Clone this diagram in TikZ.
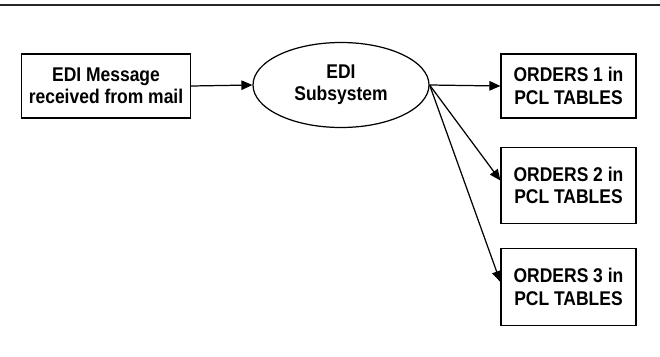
\documentclass[tikz,border=0pt]{standalone}
\usepackage{fontspec}
\setmainfont{Liberation Sans}[FakeStretch=0.88]
\usetikzlibrary{positioning, arrows.meta, shapes.geometric}

\begin{document}
\begin{tikzpicture}[
    msgbox/.style={font=\fontsize{11.3}{12.7}\selectfont\bfseries, align=center,
                   draw=black, line width=0.7pt, rectangle,
                   minimum width=3.38cm, minimum height=1.28cm, inner sep=0pt},
    orderbox/.style={msgbox, minimum width=2.7cm, minimum height=1.53cm},
    subsys/.style={msgbox, ellipse, minimum width=3.52cm, minimum height=1.7cm},
    flow/.style={-{Triangle[length=2.2mm, width=1.9mm]}, line width=0.7pt},
    rule/.style={line width=0.8pt, black!85},
]
\useasboundingbox (0,0) rectangle (13.2,7.12);

\draw[rule] (0,7.02) -- (13.2,7.02);

\node[msgbox] (mail) at (2.12, 5.40) {EDI Message\\received from mail};
\node[subsys] (edi)  at (6.82, 5.42) {EDI\\Subsystem};

\node[orderbox, minimum height=1.28cm] (ord1) at (11.37, 5.40) {ORDERS 1 in\\PCL TABLES};
\node[orderbox] (ord2) at (11.37, 3.41) {ORDERS 2 in\\PCL TABLES};
\node[orderbox] (ord3) at (11.37, 1.38) {ORDERS 3 in\\PCL TABLES};

\draw[flow] (mail.east) -- (edi.west);
\draw[flow] (edi.east) -- (ord1.west);
\draw[flow] (edi.east) -- ([yshift=0.1cm]ord2.west);
\draw[flow] (edi.east) -- ([yshift=0.1cm]ord3.west);
\end{tikzpicture}
\end{document}
